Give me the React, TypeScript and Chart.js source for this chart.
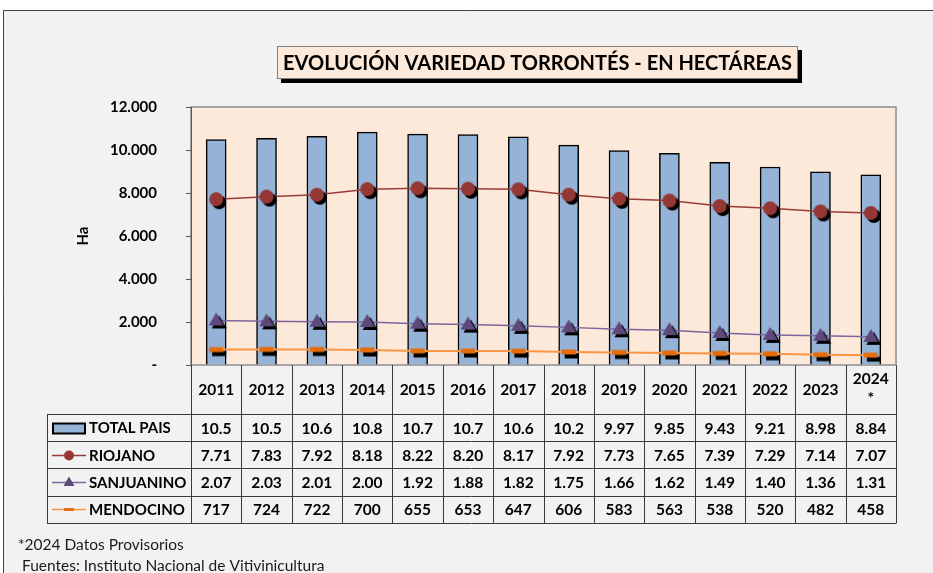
import React, { useEffect, useRef } from 'react';
import { Chart, registerables } from 'chart.js';

Chart.register(...registerables);

const YEARS = ['2011', '2012', '2013', '2014', '2015', '2016', '2017', '2018', '2019', '2020', '2021', '2022', '2023', '2024*'];
const TOTAL_PAIS = [10480, 10540, 10640, 10830, 10740, 10720, 10610, 10230, 9970, 9850, 9430, 9210, 8980, 8840];
const RIOJANO = [7710, 7830, 7920, 8180, 8220, 8200, 8170, 7920, 7730, 7650, 7390, 7290, 7140, 7070];
const SANJUANINO = [2070, 2030, 2010, 2000, 1920, 1880, 1820, 1750, 1660, 1620, 1490, 1400, 1360, 1310];
const MENDOCINO = [717, 724, 722, 700, 655, 653, 647, 606, 583, 563, 538, 520, 482, 458];
const SERIES_NAMES = ['TOTAL PAIS', 'RIOJANO', 'SANJUANINO', 'MENDOCINO'];
const Y_MAX = 12000;
const Y_STEP = 2000;
const TITLE = 'EVOLUCIÓN VARIEDAD TORRONTÉS - EN HECTÁREAS';
const Y_TITLE = 'Ha';
const NOTE_1 = '*2024 Datos Provisorios';
const NOTE_2 = 'Fuentes: Instituto Nacional de Vitivinicultura';

const FONT = 'Lato, "Open Sans", sans-serif';
const C_BAR = '#95B3D7';
const C_RIO_LINE = '#9B3B39';
const C_RIO_MARK = '#953735';
const C_SJ_LINE = '#7F64A0';
const C_SJ_MARK = '#5F497A';
const C_MZ_LINE = '#F79646';
const C_MZ_MARK = '#E46C0A';

function fmtThousands(v: number): string {
  if (v === 0) return '-';
  return String(v).replace(/\B(?=(\d{3})+(?!\d))/g, '.');
}
function fmtTable(v: number): string {
  return v >= 1000 ? (v / 1000).toPrecision(3) : String(v);
}

type DrawFn = (ctx: CanvasRenderingContext2D, cx: number, cy: number, color: string) => void;

const drawCircle: DrawFn = (ctx, cx, cy, color) => {
  ctx.fillStyle = color;
  ctx.beginPath();
  ctx.arc(cx, cy, 7, 0, Math.PI * 2);
  ctx.fill();
};
const drawTri: DrawFn = (ctx, cx, cy, color) => {
  ctx.fillStyle = color;
  ctx.beginPath();
  ctx.moveTo(cx, cy - 8);
  ctx.lineTo(cx - 7.5, cy + 5);
  ctx.lineTo(cx + 7.5, cy + 5);
  ctx.closePath();
  ctx.fill();
};
const drawDash: DrawFn = (ctx, cx, cy, color) => {
  ctx.fillStyle = color;
  ctx.fillRect(cx - 7, cy - 2.5, 14, 5);
};

function makeMarker(fn: DrawFn, color: string, dx: number, dy: number): HTMLCanvasElement {
  const c = document.createElement('canvas');
  c.width = 26;
  c.height = 26;
  const ctx = c.getContext('2d')!;
  fn(ctx, 13 + dx, 13 + dy, '#000');
  fn(ctx, 13, 13, color);
  return c;
}

export default function App() {
  const ref = useRef<HTMLCanvasElement | null>(null);

  useEffect(() => {
    const canvas = ref.current;
    if (!canvas) return;

    const mRio = makeMarker(drawCircle, C_RIO_MARK, 3, 3);
    const mSj = makeMarker(drawTri, C_SJ_MARK, 3, 3);
    const mMz = makeMarker(drawDash, C_MZ_MARK, 3, 4);

    const framePlugin = {
      id: 'frame',
      beforeDraw(chart: any) {
        const ctx = chart.ctx as CanvasRenderingContext2D;
        const { left, top, right, bottom } = chart.chartArea;
        ctx.save();
        ctx.fillStyle = '#FFFFFF';
        ctx.fillRect(0, 0, chart.width, chart.height);
        ctx.fillStyle = '#F2F2F2';
        ctx.fillRect(3, 10, chart.width - 3, chart.height - 10);
        ctx.strokeStyle = '#404040';
        ctx.lineWidth = 1;
        ctx.beginPath();
        ctx.moveTo(3.5, chart.height);
        ctx.lineTo(3.5, 10.5);
        ctx.lineTo(chart.width, 10.5);
        ctx.stroke();
        ctx.fillStyle = '#FDE9D9';
        ctx.fillRect(left, top, right - left, bottom - top);
        ctx.strokeStyle = '#8C8C8C';
        ctx.lineWidth = 1.5;
        ctx.strokeRect(left, top, right - left, bottom - top);
        const bx = 277, by = 46, bw = 521, bh = 33;
        ctx.fillStyle = '#000';
        ctx.fillRect(bx + 4, by + 4, bw, bh);
        ctx.fillStyle = '#FDE9D9';
        ctx.fillRect(bx, by, bw, bh);
        ctx.strokeStyle = '#7F7F7F';
        ctx.lineWidth = 1;
        ctx.strokeRect(bx + 0.5, by + 0.5, bw - 1, bh - 1);
        ctx.fillStyle = '#000';
        ctx.font = `bold 20px ${FONT}`;
        ctx.textAlign = 'center';
        ctx.textBaseline = 'middle';
        ctx.fillText(TITLE, bx + bw / 2, by + bh / 2 + 1);
        ctx.restore();
      },
    };

    const tablePlugin = {
      id: 'datatable',
      afterDraw(chart: any) {
        const ctx = chart.ctx as CanvasRenderingContext2D;
        const xs = chart.scales.x;
        const { left, right, bottom } = chart.chartArea;
        const n = YEARS.length;
        const colW = (right - left) / n;
        const headTop = bottom;
        const headBot = 414;
        const rowH = 27.2;
        const rowTops = [0, 1, 2, 3, 4].map((i) => headBot + i * rowH);
        const legLeft = 47;
        ctx.save();
        ctx.strokeStyle = '#3A3A3A';
        ctx.lineWidth = 1;
        rowTops.forEach((y) => {
          ctx.beginPath();
          ctx.moveTo(legLeft, Math.round(y) + 0.5);
          ctx.lineTo(right, Math.round(y) + 0.5);
          ctx.stroke();
        });
        for (let i = 0; i <= n; i++) {
          const x = Math.round(left + i * colW) + 0.5;
          ctx.beginPath();
          ctx.moveTo(x, headTop);
          ctx.lineTo(x, Math.round(rowTops[4]) + 0.5);
          ctx.stroke();
        }
        ctx.beginPath();
        ctx.moveTo(legLeft + 0.5, Math.round(rowTops[0]) + 0.5);
        ctx.lineTo(legLeft + 0.5, Math.round(rowTops[4]) + 0.5);
        ctx.stroke();

        ctx.fillStyle = '#000';
        ctx.textAlign = 'center';
        ctx.textBaseline = 'middle';
        ctx.font = `bold 15.5px ${FONT}`;
        YEARS.forEach((y, i) => {
          const cx = xs.getPixelForValue(i);
          if (y.endsWith('*')) {
            ctx.fillText(y.slice(0, -1), cx, headTop + 14);
            ctx.fillText('*', cx, headTop + 33);
          } else {
            ctx.fillText(y, cx, (headTop + headBot) / 2);
          }
        });
        const rows = [TOTAL_PAIS, RIOJANO, SANJUANINO, MENDOCINO];
        rows.forEach((arr, r) => {
          const cy = rowTops[r] + rowH / 2 + 1;
          arr.forEach((v, i) => {
            ctx.fillText(fmtTable(v), xs.getPixelForValue(i), cy);
          });
        });
        ctx.textAlign = 'left';
        ctx.font = `bold 15px ${FONT}`;
        SERIES_NAMES.forEach((name, r) => {
          const cy = rowTops[r] + rowH / 2 + 1;
          ctx.fillStyle = '#000';
          ctx.fillText(name, 89, cy);
          const sy = Math.round(rowTops[r] + rowH / 2) + 0.5;
          if (r === 0) {
            ctx.fillStyle = C_BAR;
            ctx.fillRect(53, sy - 5, 32, 10);
            ctx.strokeStyle = '#000';
            ctx.lineWidth = 2;
            ctx.strokeRect(53, sy - 5, 32, 10);
          } else {
            const lc = r === 1 ? C_RIO_LINE : r === 2 ? C_SJ_LINE : C_MZ_LINE;
            ctx.strokeStyle = lc;
            ctx.lineWidth = 1.5;
            ctx.beginPath();
            ctx.moveTo(52, sy);
            ctx.lineTo(86, sy);
            ctx.stroke();
            if (r === 1) {
              ctx.fillStyle = C_RIO_MARK;
              ctx.beginPath();
              ctx.arc(69, sy, 5, 0, Math.PI * 2);
              ctx.fill();
            } else if (r === 2) {
              ctx.fillStyle = C_SJ_MARK;
              ctx.beginPath();
              ctx.moveTo(69, sy - 6);
              ctx.lineTo(63.5, sy + 3.5);
              ctx.lineTo(74.5, sy + 3.5);
              ctx.closePath();
              ctx.fill();
            } else {
              ctx.fillStyle = C_MZ_MARK;
              ctx.fillRect(64, sy - 1.5, 10, 3);
            }
          }
        });
        ctx.fillStyle = '#1a1a1a';
        ctx.font = `15.5px ${FONT}`;
        ctx.textAlign = 'left';
        ctx.fillText(NOTE_1, 18, 545);
        ctx.fillText(NOTE_2, 22, 566);
        ctx.restore();
      },
    };

    const chart = new Chart(canvas, {
      type: 'bar',
      data: {
        labels: YEARS,
        datasets: [
          {
            type: 'bar',
            label: SERIES_NAMES[0],
            data: TOTAL_PAIS,
            backgroundColor: C_BAR,
            borderColor: '#000',
            borderWidth: 1.5,
            barThickness: 20,
            order: 10,
          },
          {
            type: 'line',
            label: SERIES_NAMES[1],
            data: RIOJANO,
            borderColor: C_RIO_LINE,
            borderWidth: 1.5,
            pointStyle: mRio as any,
            pointRadius: 7,
            order: 3,
          },
          {
            type: 'line',
            label: SERIES_NAMES[2],
            data: SANJUANINO,
            borderColor: C_SJ_LINE,
            borderWidth: 1.5,
            pointStyle: mSj as any,
            pointRadius: 7,
            order: 2,
          },
          {
            type: 'line',
            label: SERIES_NAMES[3],
            data: MENDOCINO,
            borderColor: C_MZ_LINE,
            borderWidth: 2,
            pointStyle: mMz as any,
            pointRadius: 7,
            order: 1,
          },
        ] as any,
      },
      options: {
        responsive: false,
        animation: false,
        devicePixelRatio: 1,
        layout: { padding: { left: 0, top: 107, right: 37, bottom: 208 } },
        plugins: {
          legend: { display: false },
          title: { display: false },
          tooltip: { enabled: false },
        },
        scales: {
          x: { display: false, offset: true },
          y: {
            min: 0,
            max: Y_MAX,
            afterFit: (s: any) => {
              s.width = 191;
            },
            ticks: {
              stepSize: Y_STEP,
              padding: 29,
              color: '#000',
              font: { family: FONT, size: 15, weight: 'bold' },
              callback: (v: any) => fmtThousands(Number(v)),
            },
            grid: {
              display: true,
              drawOnChartArea: false,
              drawTicks: true,
              tickLength: 5,
              color: '#595959',
            },
            border: { display: true, color: '#595959', width: 1 },
            title: {
              display: true,
              text: Y_TITLE,
              color: '#000',
              font: { family: FONT, size: 15, weight: 'bold' },
              padding: { top: 74, bottom: 0 },
            },
          },
        },
      } as any,
      plugins: [framePlugin, tablePlugin],
    });

    let alive = true;
    if ((document as any).fonts && (document as any).fonts.load) {
      Promise.all([
        (document as any).fonts.load(`bold 14px Lato`),
        (document as any).fonts.load(`14px Lato`),
      ]).then(() => {
        if (alive) chart.update();
      }).catch(() => {});
    }

    return () => {
      alive = false;
      chart.destroy();
    };
  }, []);

  return (
    <div style={{ position: 'absolute', left: 0, top: 0, width: 933, height: 573 }}>
      <canvas ref={ref} width={933} height={573} style={{ display: 'block', width: 933, height: 573 }} />
    </div>
  );
}
